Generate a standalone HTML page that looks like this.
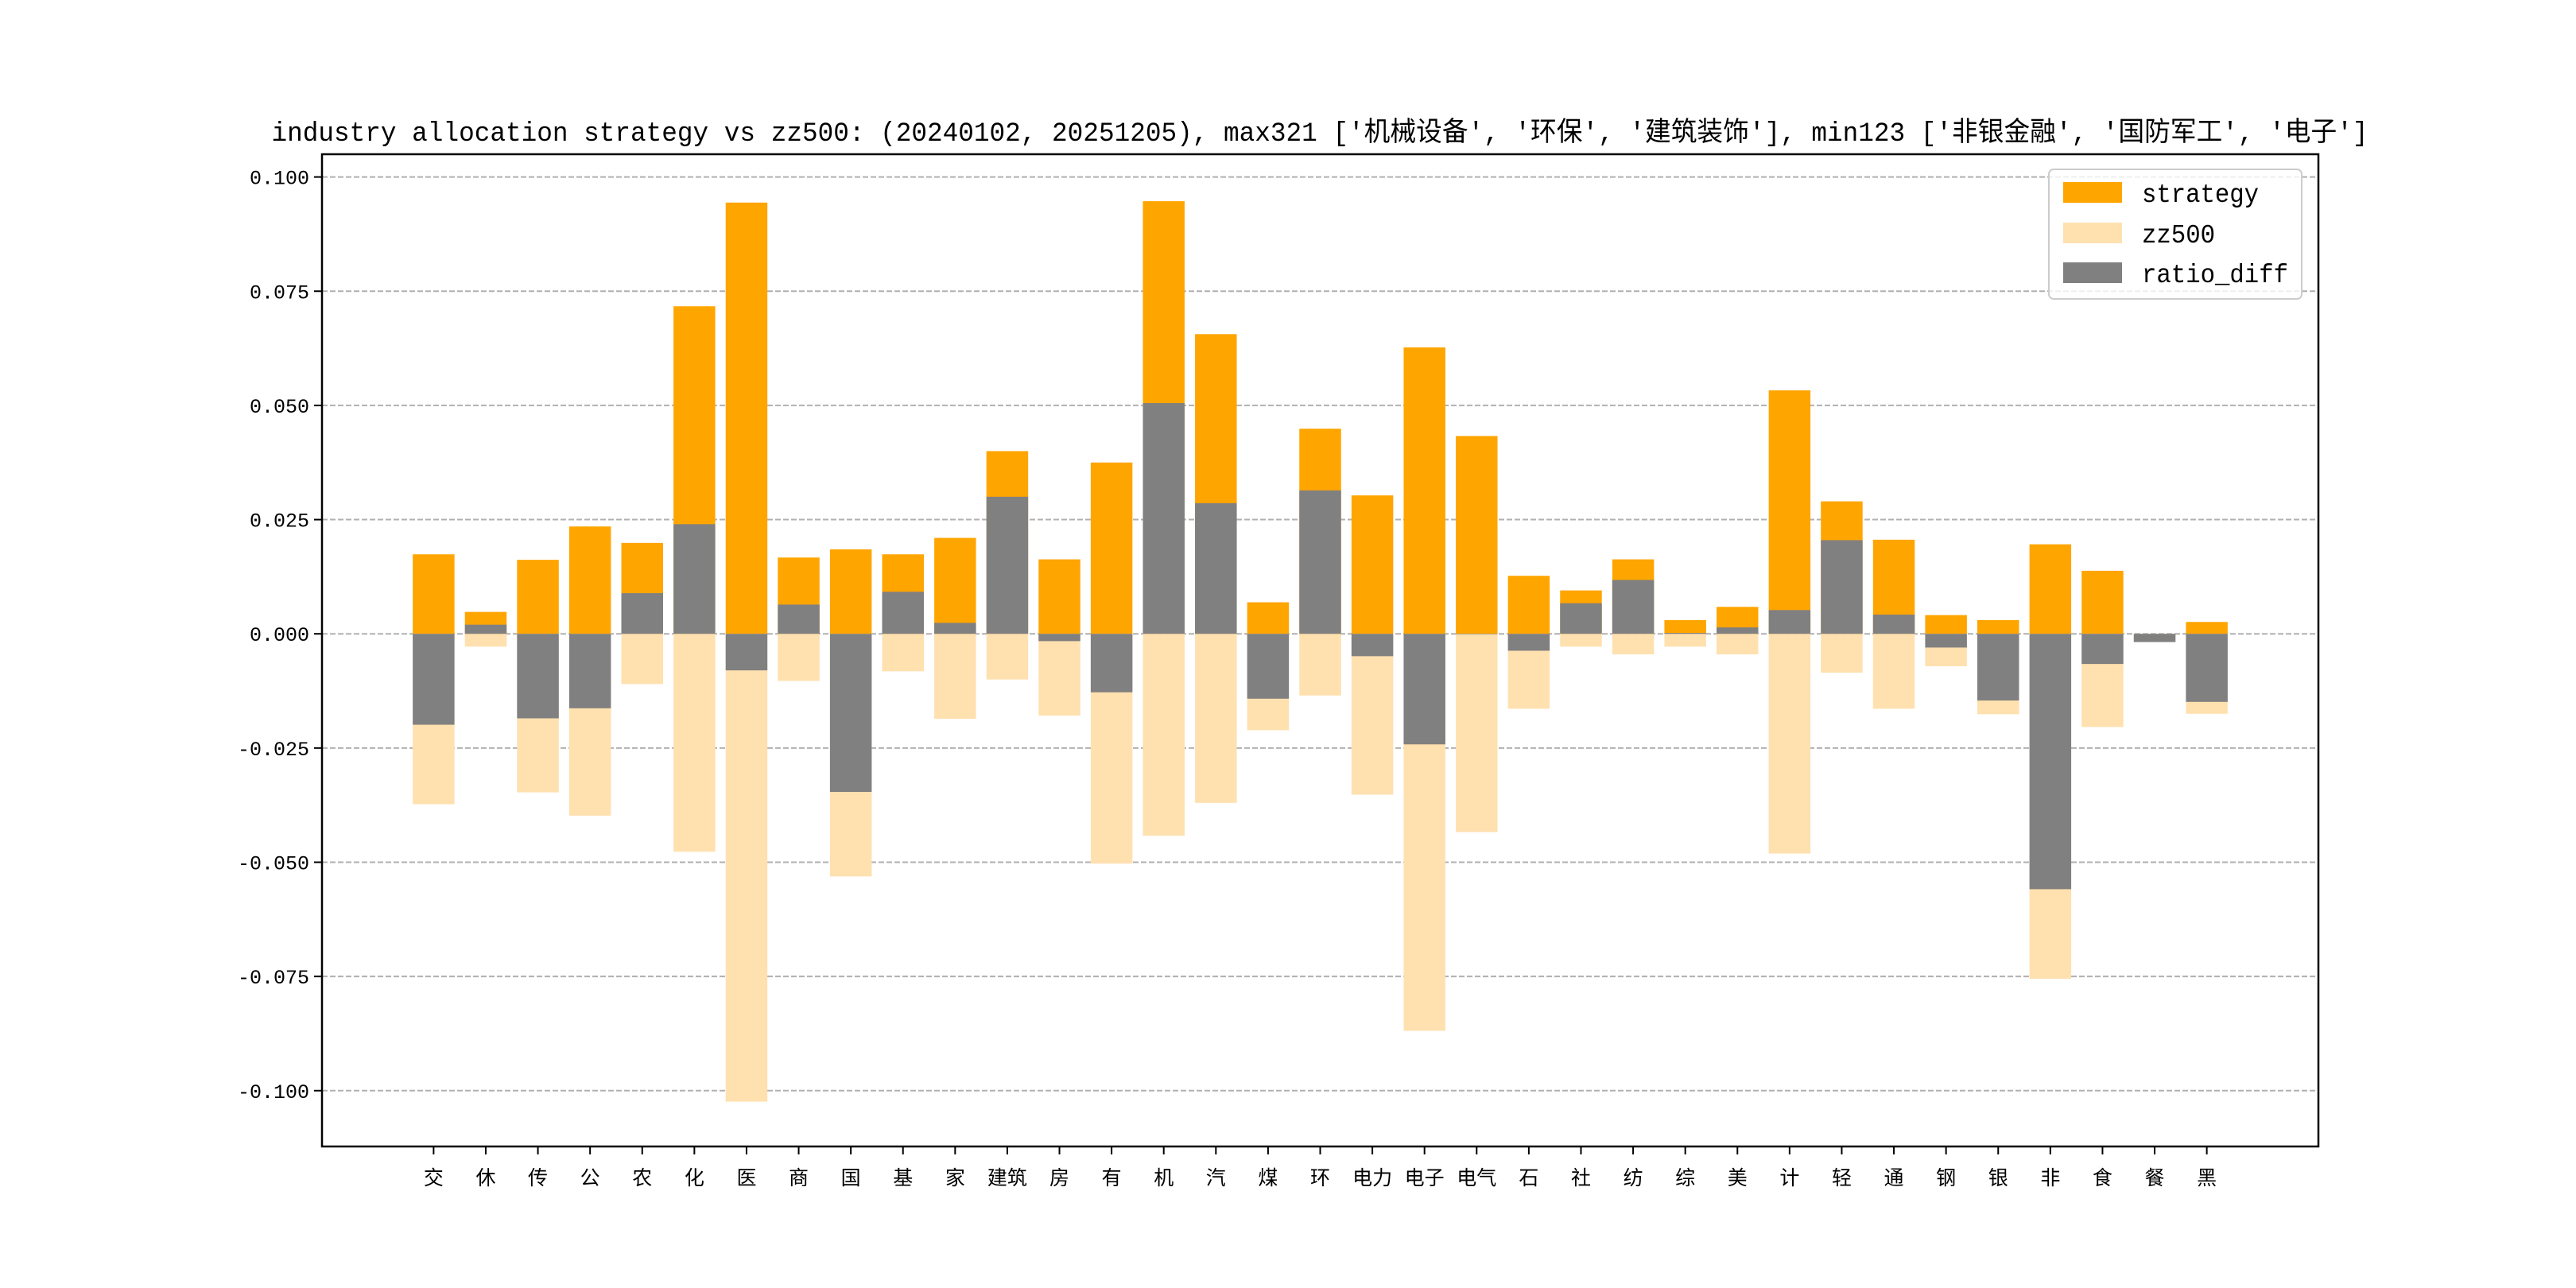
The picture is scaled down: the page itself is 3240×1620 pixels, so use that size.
<!DOCTYPE html>
<html><head><meta charset="utf-8"><style>html,body{margin:0;padding:0;background:#fff}svg{display:block}</style></head>
<body>
<svg id="chart" width="3240" height="1620" xmlns="http://www.w3.org/2000/svg" font-family="'Liberation Mono','Noto Sans CJK SC',monospace">
<rect width="3240" height="1620" fill="#fff"/>
<text x="1660" y="177" text-anchor="middle" font-size="34" textLength="2637" lengthAdjust="spacingAndGlyphs">industry allocation strategy vs zz500: (20240102, 20251205), max321 ['机械设备', '环保', '建筑装饰'], min123 ['非银金融', '国防军工', '电子']</text>
<g id="grid"></g>
<g id="bars"></g>
<rect x="405" y="194" width="2511" height="1248" fill="none" stroke="#000" stroke-width="2.5"/>
<g id="axes"></g>
<g>
<rect x="2577" y="213" width="318" height="163" rx="6" fill="#fff" fill-opacity="0.8" stroke="#ccc" stroke-width="2"/>
<g><rect x="2595" y="229" width="74" height="26" fill="#FFA500"/><text x="2694" y="254" font-size="33" textLength="147" lengthAdjust="spacingAndGlyphs">strategy</text></g>
<g><rect x="2595" y="280" width="74" height="26" fill="#FFE0AF"/><text x="2694" y="305" font-size="33" textLength="92" lengthAdjust="spacingAndGlyphs">zz500</text></g>
<g><rect x="2595" y="330" width="74" height="26" fill="#808080"/><text x="2694" y="355" font-size="33" textLength="184" lengthAdjust="spacingAndGlyphs">ratio_diff</text></g>
</g>
</svg>
<script>
const categories = ['交','休','传','公','农','化','医','商','国','基','家','建筑','房','有','机','汽','煤','环','电力','电子','电气','石','社','纺','综','美','计','轻','通','钢','银','非','食','餐','黑'];
const strategyValues = [0.0174,0.0048,0.0162,0.0235,0.0199,0.0717,0.0944,0.0167,0.0185,0.0174,0.0210,0.0400,0.0163,0.0375,0.0947,0.0656,0.0069,0.0449,0.0303,0.0627,0.0433,0.0127,0.0095,0.0163,0.0030,0.0059,0.0533,0.0290,0.0206,0.0041,0.0030,0.0196,0.0138,0.0000,0.0026];
const zz500Values = [0.0373,0.0028,0.0347,0.0398,0.0110,0.0477,0.1024,0.0103,0.0531,0.0082,0.0186,0.0100,0.0179,0.0503,0.0442,0.0370,0.0211,0.0135,0.0352,0.0869,0.0434,0.0164,0.0028,0.0045,0.0028,0.0045,0.0481,0.0085,0.0164,0.0071,0.0176,0.0755,0.0204,0.0018,0.0175];
const yTicks = [0.1,0.075,0.05,0.025,0,-0.025,-0.05,-0.075,-0.1];
const yTickLabels = ['0.100','0.075','0.050','0.025','0.000','-0.025','-0.050','-0.075','-0.100'];

const NS='http://www.w3.org/2000/svg';
const L=405,R=2916,T=194,B=1442;
const n=categories.length;
const xMin=-0.4-0.05*(n-1+0.8), xMax=(n-1)+0.4+0.05*(n-1+0.8);
const yMin=-0.11222, yMax=0.10498;
function xs(v){return L+(v-xMin)/(xMax-xMin)*(R-L);}
function ys(v){return B-(v-yMin)/(yMax-yMin)*(B-T);}
function mk(tag,attrs,parent){const e=document.createElementNS(NS,tag);for(const k in attrs)e.setAttribute(k,attrs[k]);parent.appendChild(e);return e;}
const grid=document.getElementById('grid'),bars=document.getElementById('bars'),axes=document.getElementById('axes');
yTicks.forEach((t,i)=>{
  const y=ys(t);
  const g=mk('line',{x1:L,x2:R,y1:y,y2:y,stroke:'#b0b0b0','stroke-width':2,'stroke-dasharray':'7,3'},grid);
  
  
  const tk=mk('line',{x1:L-10,x2:L,y1:y,y2:y,stroke:'#000','stroke-width':2},axes);
  
  
  const tx=mk('text',{x:L-16,y:y+9,'text-anchor':'end','font-size':25},axes);
  tx.textContent=yTickLabels[i];
  
  
});
const bw=0.8*(xs(1)-xs(0));
function bar(i,v,fill,name){
  const x=xs(i)-bw/2, y0=ys(0), y1=ys(v);
  const r=mk('rect',{x:x,y:Math.min(y0,y1),width:bw,height:Math.abs(y1-y0),fill:fill},bars);
  
  
}
categories.forEach((c,i)=>{
  bar(i,strategyValues[i],'#FFA500','strategy-bar');
  bar(i,-zz500Values[i],'#FFE0AF','zz500-bar');
  bar(i,strategyValues[i]-zz500Values[i],'#808080','ratio-diff-bar');
  const x=xs(i);
  const tk=mk('line',{x1:x,x2:x,y1:B,y2:B+10,stroke:'#000','stroke-width':2},axes);
  
  
  const tx=mk('text',{x:x,y:B+48,'text-anchor':'middle','font-size':25},axes);
  tx.textContent=c;
  
  
});
</script>
</body></html>
